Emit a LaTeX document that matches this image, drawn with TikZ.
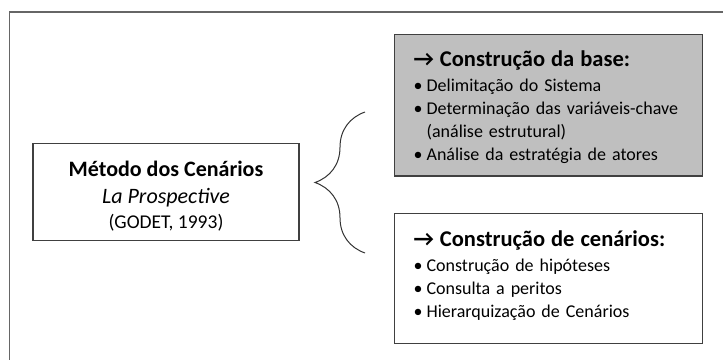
\documentclass[tikz,border=0pt]{standalone}
\usepackage{fontspec}
\setmainfont{Carlito}
\usetikzlibrary{decorations.pathreplacing}
\tikzset{
  boxline/.style={draw=black!75, line width=1.2pt},
  methodbox/.style={boxline, minimum width=266pt, inner ysep=0pt,
    align=center, font=\fontsize{22}{25}\selectfont},
  stagebox/.style={boxline, anchor=north west, minimum width=308pt,
    text width=270pt, inner xsep=19pt, inner ysep=0pt, align=left,
    font=\fontsize{18}{23}\selectfont},
  chave/.style={decorate, decoration={brace, amplitude=50pt},
    draw=black!80, line width=1pt}
}
\newcommand{\stagehead}[2]{\rule{0pt}{#1pt}{\fontsize{22.5}{23}\selectfont\bfseries →~#2}}
\newcommand{\bul}{\makebox[13pt][l]{•}}
\newcommand{\lastdepth}[1]{\rule[-#1pt]{0pt}{#1pt}}

\begin{document}
\begin{tikzpicture}[x=1pt, y=-1pt]
\useasboundingbox (0,0) rectangle (723,359);
\clip (0,0) rectangle (723,359);
% outer frame, cut at the right and bottom
\draw[draw=black!60, line width=1.5pt] (9.5,12) rectangle (760,400);

\node[methodbox, anchor=north] (metodo) at (166,143)
  {\rule{0pt}{32.7pt}{\bfseries Método dos Cenários}\\[2.3pt]
   {\itshape La Prospective}\\
   {\fontsize{19.5}{25}\selectfont (GODET, 1993)}\lastdepth{12}};

\node[stagebox, fill=black!25] (base) at (394,34)
  {\stagehead{31.7}{Construção da base:}\\[2pt]
   \bul Delimitação do Sistema\\
   \bul Determinação das variáveis-chave\\
   \phantom{\bul}(análise estrutural)\\
   \bul Análise da estratégia de atores\lastdepth{15.7}};

\node[stagebox] (cenarios) at (394,213)
  {\stagehead{32.7}{Construção de cenários:}\\[2pt]
   \bul Construção de hipóteses\\
   \bul Consulta a peritos\\
   \bul Hierarquização de Cenários\lastdepth{26.3}};

\coordinate (chaveTopo) at (365,112);
\coordinate (chaveBase) at (365,253);
\draw[chave] (chaveBase) -- (chaveTopo);
\end{tikzpicture}
\end{document}
